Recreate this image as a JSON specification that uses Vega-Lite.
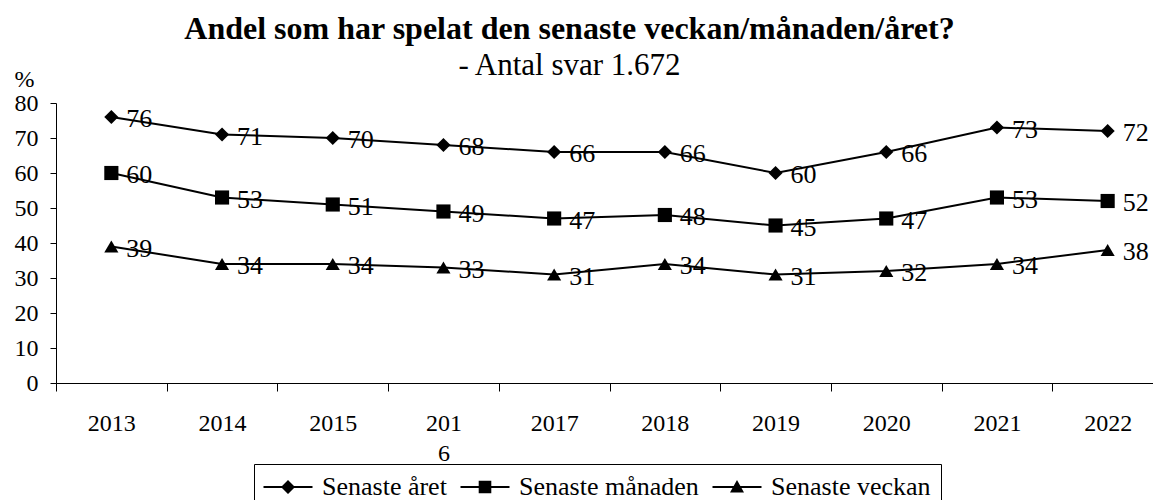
{
  "$schema": "https://vega.github.io/schema/vega-lite/v6.json",
  "autosize": "none",
  "width": 1097,
  "height": 280,
  "padding": {"left": 56, "top": 103, "right": 0, "bottom": 117},
  "background": "white",
  "config": {
    "view": {"stroke": null},
    "font": "Liberation Serif"
  },
  "title": {
    "text": "Andel som har spelat den senaste veckan/månaden/året?",
    "subtitle": "- Antal svar 1.672",
    "anchor": "middle",
    "frame": "group",
    "dx": -35,
    "offset": -15,
    "font": "Liberation Serif",
    "fontSize": 32,
    "fontWeight": "bold",
    "color": "black",
    "subtitleFont": "Liberation Serif",
    "subtitleFontSize": 31,
    "subtitleColor": "black",
    "subtitlePadding": 5
  },
  "data": {
    "values": [
      {"year": "2013", "series": "Senaste året", "value": 76},
      {"year": "2014", "series": "Senaste året", "value": 71},
      {"year": "2015", "series": "Senaste året", "value": 70},
      {"year": "2016", "series": "Senaste året", "value": 68},
      {"year": "2017", "series": "Senaste året", "value": 66},
      {"year": "2018", "series": "Senaste året", "value": 66},
      {"year": "2019", "series": "Senaste året", "value": 60},
      {"year": "2020", "series": "Senaste året", "value": 66},
      {"year": "2021", "series": "Senaste året", "value": 73},
      {"year": "2022", "series": "Senaste året", "value": 72},
      {"year": "2013", "series": "Senaste månaden", "value": 60},
      {"year": "2014", "series": "Senaste månaden", "value": 53},
      {"year": "2015", "series": "Senaste månaden", "value": 51},
      {"year": "2016", "series": "Senaste månaden", "value": 49},
      {"year": "2017", "series": "Senaste månaden", "value": 47},
      {"year": "2018", "series": "Senaste månaden", "value": 48},
      {"year": "2019", "series": "Senaste månaden", "value": 45},
      {"year": "2020", "series": "Senaste månaden", "value": 47},
      {"year": "2021", "series": "Senaste månaden", "value": 53},
      {"year": "2022", "series": "Senaste månaden", "value": 52},
      {"year": "2013", "series": "Senaste veckan", "value": 39},
      {"year": "2014", "series": "Senaste veckan", "value": 34},
      {"year": "2015", "series": "Senaste veckan", "value": 34},
      {"year": "2016", "series": "Senaste veckan", "value": 33},
      {"year": "2017", "series": "Senaste veckan", "value": 31},
      {"year": "2018", "series": "Senaste veckan", "value": 34},
      {"year": "2019", "series": "Senaste veckan", "value": 31},
      {"year": "2020", "series": "Senaste veckan", "value": 32},
      {"year": "2021", "series": "Senaste veckan", "value": 34},
      {"year": "2022", "series": "Senaste veckan", "value": 38}
    ]
  },
  "encoding": {
    "x": {
      "field": "year",
      "type": "ordinal",
      "sort": null,
      "scale": {"type": "band", "range": [0, 1107], "paddingInner": 0, "paddingOuter": 0},
      "axis": {
        "title": null,
        "labelAngle": 0,
        "tickBand": "extent",
        "tickSize": 8,
        "tickColor": "black",
        "domainColor": "black",
        "labelFont": "Liberation Serif",
        "labelFontSize": 24,
        "labelColor": "black",
        "labelPadding": 20,
        "labelBaseline": "top",
        "labelLineHeight": 30,
        "labelOverlap": false,
        "labelFlush": false,
        "labelExpr": "datum.value == '2016' ? ['201', '6'] : datum.label"
      }
    },
    "y": {
      "field": "value",
      "type": "quantitative",
      "scale": {"domain": [0, 80], "nice": false},
      "axis": {
        "values": [0, 10, 20, 30, 40, 50, 60, 70, 80],
        "grid": false,
        "title": "%",
        "titleAngle": 0,
        "titleX": -32,
        "titleY": -24,
        "titleAlign": "center",
        "titleBaseline": "middle",
        "titleFont": "Liberation Serif",
        "titleFontWeight": "normal",
        "titleFontSize": 24,
        "titleColor": "black",
        "tickSize": 6,
        "tickColor": "black",
        "domainColor": "black",
        "labelFont": "Liberation Serif",
        "labelFontSize": 24,
        "labelColor": "black",
        "labelPadding": 12
      }
    }
  },
  "resolve": {"scale": {"shape": "independent"}},
  "layer": [
    {
      "mark": {"type": "line", "color": "black", "strokeWidth": 2},
      "encoding": {"detail": {"field": "series"}}
    },
    {
      "mark": {"type": "point", "filled": true, "color": "black", "opacity": 0, "size": 196},
      "encoding": {
        "shape": {
          "field": "series",
          "type": "nominal",
          "scale": {
            "domain": ["Senaste året", "Senaste månaden", "Senaste veckan"],
            "range": [
              "M-3.5,-0.15H3.5V0.15H-3.5Z M0,-1L1,0L0,1L-1,0Z",
              "M-3.5,-0.15H3.5V0.15H-3.5Z M-0.9,-0.9H0.9V0.9H-0.9Z",
              "M-3.5,-0.15H3.5V0.15H-3.5Z M0,-1L1,0.8H-1Z"
            ]
          },
          "legend": {
            "title": null,
            "orient": "none",
            "legendX": 198,
            "legendY": 361,
            "direction": "horizontal",
            "strokeColor": "black",
            "fillColor": "white",
            "padding": 10,
            "symbolSize": 196,
            "symbolOpacity": 1,
            "symbolOffset": 11,
            "labelOffset": 21,
            "columnPadding": 13,
            "labelLimit": 400,
            "symbolFillColor": "black",
            "symbolStrokeWidth": 0,
            "labelFont": "Liberation Serif",
            "labelFontSize": 26,
            "labelColor": "black"
          }
        }
      }
    },
    {
      "mark": {"type": "point", "filled": true, "color": "black", "opacity": 1, "size": 200},
      "encoding": {
        "shape": {
          "field": "series",
          "type": "nominal",
          "scale": {
            "domain": ["Senaste året", "Senaste månaden", "Senaste veckan"],
            "range": ["diamond", "square", "triangle-up"]
          },
          "legend": null
        }
      }
    },
    {
      "mark": {"type": "text", "align": "left", "baseline": "middle", "dx": 15, "dy": 2, "font": "Liberation Serif", "fontSize": 26, "color": "black"},
      "encoding": {"text": {"field": "value", "type": "quantitative"}}
    }
  ]
}
